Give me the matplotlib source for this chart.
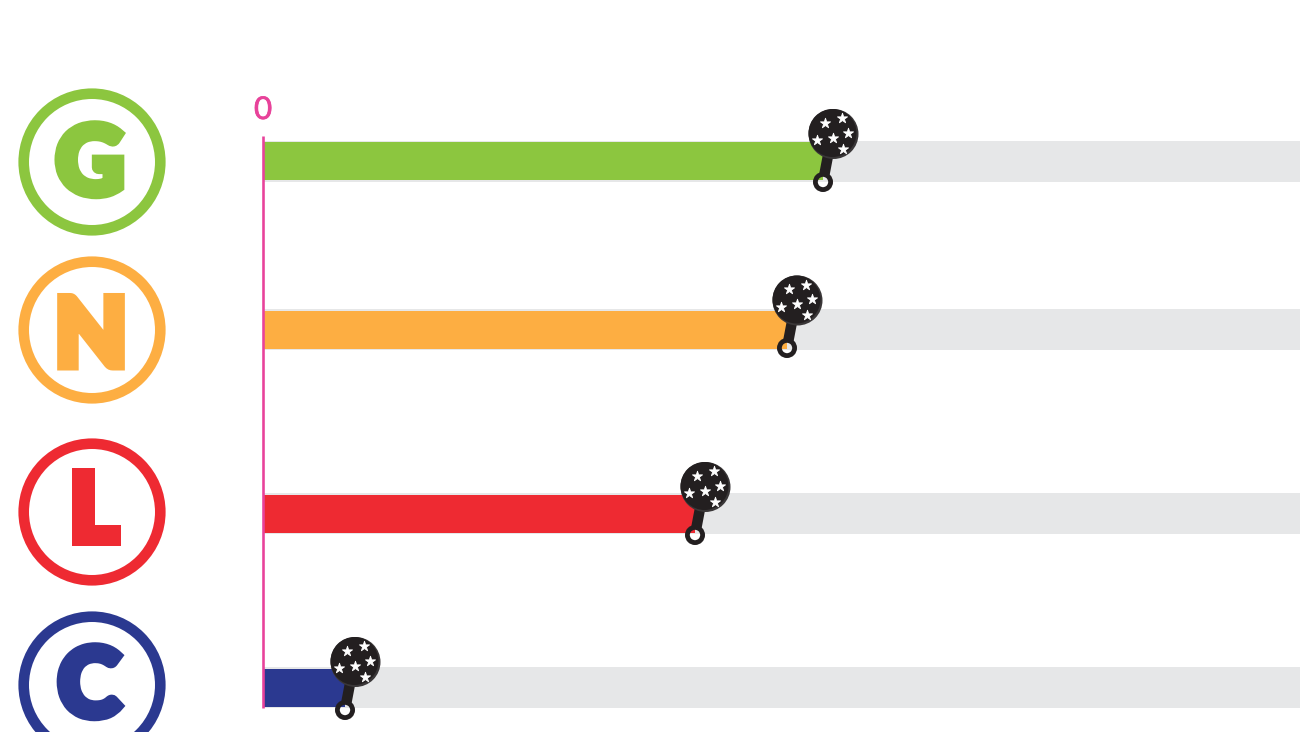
import numpy as np
import matplotlib
matplotlib.use('Agg')
import matplotlib.pyplot as plt
import matplotlib.patheffects as pe
from matplotlib.patches import Circle

# chart values
letters = ['G', 'N', 'L', 'C']
values = [559, 523, 431, 81]
track_max = 1036
colors = ['#8cc63f', '#fdae42', '#ee2a32', '#2b3990']

# layout, in pixels
track_y = [161.5, 329.5, 513.5, 687.5]
bar_y = [161, 330, 514, 687.5]
badge_y = [162, 330, 512, 685]
letter_base = [194, 366, 541, 716]
letter_x = [90, 91, 93, 89]
ring_y = [182, 348, 535, 710]
head_y = [134, 300.5, 487, 662]
star_dx = [-9, 8, 14, -1, -16.5, 9]
star_dy = [-11.5, -16, -1.5, 3.5, 6, 14.5]
px = 72 / 100  # one pixel in points

fig = plt.figure(figsize=(13, 7.32), dpi=100)
ax = fig.add_axes([0, 0, 1, 1])
ax.set_xlim(-264, 1036)
ax.set_ylim(732, 0)
ax.axis('off')

# grey tracks and coloured bars
ax.barh(track_y, [track_max] * 4, height=41, color='#e6e7e8', zorder=1)
ax.barh(bar_y, values, height=38, color=colors, zorder=2)

# zero line
ax.plot([-1, -1], [136, 708], color='#e8429a', lw=2.6 * px, solid_capstyle='butt', zorder=3)
ax.text(-1, 110, '0', color='#e8429a', fontsize=22.5, family='Lato', ha='center', va='center',
        path_effects=[pe.withStroke(linewidth=0.7 * px, foreground='#e8429a')])

# letter badges on the left
for letter, color, y, lx, base in zip(letters, colors, badge_y, letter_x, letter_base):
    ax.add_patch(Circle((92 - 264, y), 68.3, fill=False, ec=color, lw=10.6 * px, zorder=3))
    ax.text(lx - 264, base, letter, color=color, fontsize=68, family='Lato', fontweight='black',
            ha='center', va='baseline', zorder=3,
            path_effects=[pe.withStroke(linewidth=9 * px, foreground=color, joinstyle='miter')])

# paddle markers at the end of each bar
for v, ry, hy in zip(values, ring_y, head_y):
    hx = v + 10.5
    ax.plot([v + 1.5, v + 5.5], [ry - 8, ry - 29], color='#231f20', lw=10.5 * px,
            solid_capstyle='butt', zorder=4)
    # hole stays open so the bar shows through
    ax.add_patch(Circle((v, ry), 7.6, fill=False, ec='#231f20', lw=4.8 * px, zorder=5))
    ax.add_patch(Circle((hx, hy), 25, fc='#3a3738', ec='none', zorder=5))
    ax.add_patch(Circle((hx - 1, hy - 1), 24, fc='#231f20', ec='none', zorder=6))
    ax.scatter(hx + np.array(star_dx), hy + np.array(star_dy), marker='*', s=58,
               color='white', edgecolors='white', linewidths=0.6, zorder=7)

fig.savefig('out.png', dpi=100)
